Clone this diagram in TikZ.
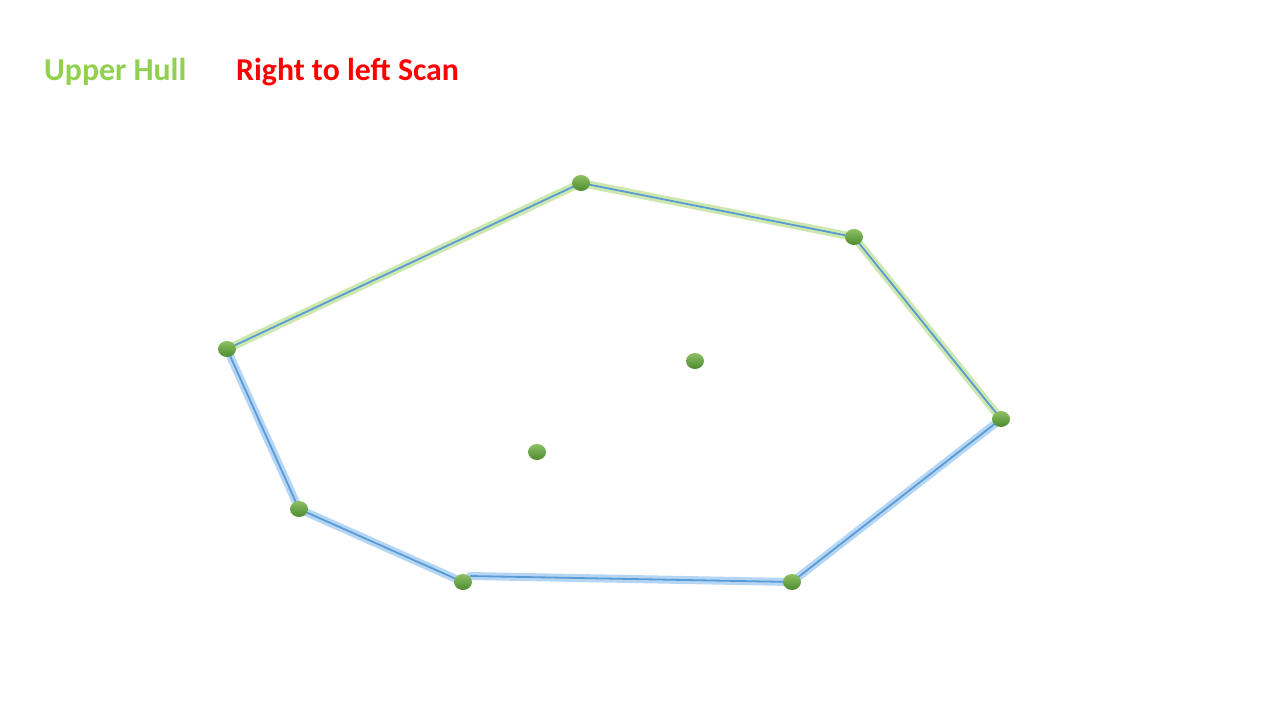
\documentclass[tikz,border=0pt]{standalone}
\usepackage{fontspec}
\setmainfont{Carlito}
\usetikzlibrary{shapes.geometric,backgrounds}
\definecolor{hullgreen}{HTML}{92D050}
\definecolor{scanred}{HTML}{FF0000}
\definecolor{edgeblue}{HTML}{5B9BD5}
\definecolor{glowgreen}{HTML}{CDE8AE}
\definecolor{glowblue}{HTML}{B4D6F4}
\definecolor{dottop}{HTML}{8CC063}
\definecolor{dotbot}{HTML}{4F8A30}
\tikzset{
  dot/.style={ellipse, minimum width=18pt, minimum height=16pt, inner sep=0pt,
    top color=dottop, bottom color=dotbot, draw=none},
  upperglow/.style={draw=glowgreen, line width=8pt, line join=round, line cap=round},
  lowerglow/.style={draw=glowblue, line width=8pt, line join=round, line cap=round},
  edge/.style={draw=edgeblue, line width=1.8pt, line join=round},
  title/.style={font=\fontsize{31.8}{38}\selectfont\bfseries, anchor=base west, inner sep=0pt}
}
\begin{document}
\begin{tikzpicture}[x=1pt,y=-1pt]
\useasboundingbox (0,0) rectangle (1280,720);
\node[title, text=hullgreen] (t1) at (44,80) {Upper Hull};
\node[title, text=scanred] (t2) at (236,80) {Right to left Scan};
\node[dot] (p1) at (227,349) {};
\node[dot] (p2) at (581,183) {};
\node[dot] (p3) at (854,237) {};
\node[dot] (p4) at (1001,419) {};
\node[dot] (p5) at (792,582) {};
\node[dot] (p6) at (463,582) {};
\node[dot] (p7) at (299,509) {};
\node[dot] (q1) at (695,361) {};
\node[dot] (q2) at (537,452) {};
\coordinate (p6a) at (470,576);
\begin{pgfonlayer}{background}
\draw[upperglow] (p1.center) -- (p2.center) -- (p3.center) -- (p4.center);
\draw[lowerglow] (p4.center) -- (p5.center) -- (p6a) (p6.center) -- (p7.center) -- (p1.center);
\draw[edge] (p1.center) -- (p2.center) -- (p3.center) -- (p4.center);
\draw[edge] (p4.center) -- (p5.center) -- (p6a) (p6.center) -- (p7.center) -- (p1.center);
\end{pgfonlayer}
\end{tikzpicture}
\end{document}
